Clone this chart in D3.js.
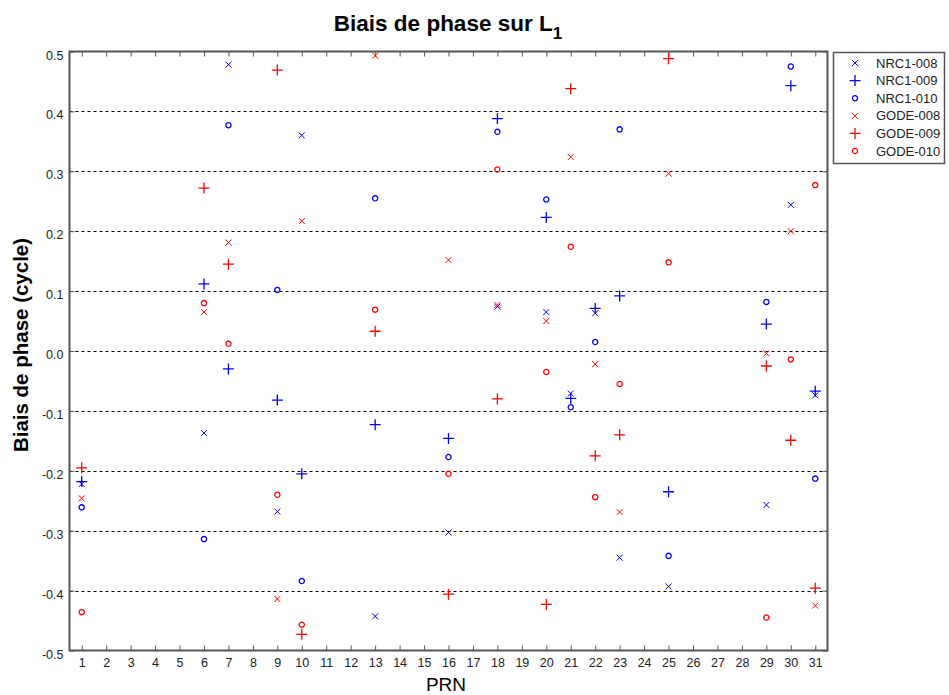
<!DOCTYPE html>
<html>
<head>
<meta charset="utf-8">
<script src="https://cdn.jsdelivr.net/npm/d3@7"></script>
<style>
  html, body { margin: 0; padding: 0; background: #fff; }
  svg { display: block; font-family: "Liberation Sans", Arial, sans-serif; }
</style>
</head>
<body>
<svg id="chart" width="949" height="695"></svg>
<script>
// PRN numbers that carry a measurement
const prn = [1, 6, 7, 9, 10, 13, 16, 18, 20, 21, 22, 23, 25, 29, 30, 31];

// Phase bias on L1 (cycles), one value per PRN for each station/day
const nrc1_008 = [-0.222, -0.137, 0.478, -0.268, 0.360, -0.443, -0.303, 0.074, 0.065, -0.071, 0.063, -0.345, -0.393, -0.257, 0.244, -0.074];
const nrc1_009 = [-0.218, 0.112, -0.030, -0.082, -0.205, -0.123, -0.146, 0.388, 0.223, -0.079, 0.071, 0.092, -0.235, 0.045, 0.443, -0.067];
const nrc1_010 = [-0.261, -0.314, 0.377, 0.102, -0.384, 0.255, -0.177, 0.366, 0.253, -0.094, 0.015, 0.370, -0.342, 0.082, 0.475, -0.213];
const gode_008 = [-0.246, 0.065, 0.181, -0.414, 0.217, 0.493, 0.152, 0.077, 0.050, 0.324, -0.022, -0.269, 0.296, -0.004, 0.200, -0.425];
const gode_009 = [-0.195, 0.272, 0.145, 0.469, -0.473, 0.033, -0.406, -0.080, -0.423, 0.438, -0.175, -0.140, 0.488, -0.025, -0.149, -0.396];
const gode_010 = [-0.436, 0.080, 0.012, -0.240, -0.457, 0.069, -0.205, 0.303, -0.035, 0.174, -0.244, -0.055, 0.148, -0.445, -0.014, 0.277];

const seriesNames = ["NRC1-008", "NRC1-009", "NRC1-010", "GODE-008", "GODE-009", "GODE-010"];
const seriesValues = [nrc1_008, nrc1_009, nrc1_010, gode_008, gode_009, gode_010];
const seriesColors = ["#0000ff", "#0000ff", "#0000ff", "#ff0000", "#ff0000", "#ff0000"];
const seriesMarkers = ["x", "+", "o", "x", "+", "o"];

const xTicks = d3.range(1, 32);
const yTicks = [-0.5, -0.4, -0.3, -0.2, -0.1, 0.0, 0.1, 0.2, 0.3, 0.4, 0.5];

const svg = d3.select("#chart");
const plot = { left: 69.5, right: 827.5, top: 51.5, bottom: 650.5 };

const x = d3.scaleLinear().domain([0.5, 31.5]).range([plot.left, plot.right]);
const y = d3.scaleLinear().domain([-0.5, 0.5]).range([plot.bottom, plot.top]);

const axisColor = "#555";
const narrowFont = "'Liberation Sans Narrow', 'Liberation Sans', Arial, sans-serif";

// dashed horizontal grid
svg.append("g").selectAll("line")
  .data(yTicks.filter(v => v > -0.5 && v < 0.5))
  .join("line")
  .attr("x1", plot.left).attr("x2", plot.right)
  .attr("y1", d => Math.round(y(d)) + 0.5).attr("y2", d => Math.round(y(d)) + 0.5)
  .attr("stroke", "#000").attr("stroke-width", 1)
  .attr("stroke-dasharray", "3,3");

// axes: ticks point inward on all four sides
const fmtY = d => d3.format(".1f")(d).replace("−", "-");
const bottomAxis = d3.axisBottom(x).tickValues(xTicks).tickSizeInner(-5).tickSizeOuter(0).tickPadding(8);
const topAxis = d3.axisTop(x).tickValues(xTicks).tickSizeInner(-5).tickSizeOuter(0).tickFormat("");
const leftAxis = d3.axisLeft(y).tickValues(yTicks).tickSizeInner(-5).tickSizeOuter(0).tickPadding(6).tickFormat(fmtY);
const rightAxis = d3.axisRight(y).tickValues(yTicks).tickSizeInner(-5).tickSizeOuter(0).tickFormat("");

function styleAxis(g) {
  g.select(".domain").remove();
  g.selectAll(".tick line").attr("stroke", axisColor);
  g.selectAll(".tick text").attr("fill", "#222").attr("font-size", 12.5)
    .attr("font-family", narrowFont);
}

svg.append("g").attr("transform", `translate(0,${plot.bottom})`).call(bottomAxis).call(styleAxis);
svg.append("g").attr("transform", `translate(0,${plot.top})`).call(topAxis).call(styleAxis);
svg.append("g").attr("transform", `translate(${plot.left},0)`).call(leftAxis).call(styleAxis)
  .selectAll(".tick text").attr("dy", "0.6em");
svg.append("g").attr("transform", `translate(${plot.right},0)`).call(rightAxis).call(styleAxis);

// axes box
svg.append("rect")
  .attr("x", plot.left).attr("y", plot.top)
  .attr("width", plot.right - plot.left).attr("height", plot.bottom - plot.top)
  .attr("fill", "none").attr("stroke", axisColor).attr("stroke-width", 2);

// marker painters
function drawMarker(g, kind, color) {
  if (kind === "x") {
    const s = 3;
    g.append("path").attr("d", `M${-s},${-s}L${s},${s}M${-s},${s}L${s},${-s}`)
      .attr("stroke", color).attr("stroke-width", 1).attr("fill", "none");
  } else if (kind === "+") {
    const s = 5.5;
    g.append("path").attr("d", `M${-s},0L${s},0M0,${-s}L0,${s}`)
      .attr("stroke", color).attr("stroke-width", 1.3).attr("fill", "none");
  } else {
    g.append("circle").attr("r", 2.6)
      .attr("stroke", color).attr("stroke-width", 1.3).attr("fill", "none");
  }
}

// scatter points
seriesValues.forEach((vals, si) => {
  const grp = svg.append("g").attr("class", "series");
  grp.selectAll("g").data(vals.map((v, i) => ({ p: prn[i], v })))
    .join("g")
    .attr("transform", d => `translate(${x(d.p)},${y(d.v)})`)
    .each(function () { drawMarker(d3.select(this), seriesMarkers[si], seriesColors[si]); });
});

// title with subscript
const title = svg.append("text")
  .attr("x", 448).attr("y", 31)
  .attr("text-anchor", "middle")
  .attr("font-size", 22.5).attr("font-weight", "bold").attr("fill", "#000");
title.append("tspan").text("Biais de phase sur L");
title.append("tspan").attr("dy", 8).attr("font-size", 17).text("1");

// axis labels
svg.append("text")
  .attr("x", 446).attr("y", 691)
  .attr("text-anchor", "middle").attr("font-size", 19).attr("fill", "#000")
  .text("PRN");

svg.append("text")
  .attr("transform", `translate(28,${(plot.top + plot.bottom) / 2 - 6}) rotate(-90)`)
  .attr("text-anchor", "middle").attr("font-size", 20.5).attr("font-weight", "bold").attr("fill", "#000")
  .text("Biais de phase (cycle)");

// legend
const legend = svg.append("g");
legend.append("rect")
  .attr("x", 833.5).attr("y", 52.5).attr("width", 111).attr("height", 111)
  .attr("fill", "#fff").attr("stroke", axisColor).attr("stroke-width", 1.5);
seriesNames.forEach((name, i) => {
  const ly = 63 + i * 17.6;
  const m = legend.append("g").attr("transform", `translate(855,${ly})`);
  drawMarker(m, seriesMarkers[i], seriesColors[i]);
  legend.append("text")
    .attr("x", 876).attr("y", ly + 4.5)
    .attr("font-size", 13).attr("fill", "#222")
    .attr("font-family", narrowFont)
    .text(name);
});
</script>
</body>
</html>
